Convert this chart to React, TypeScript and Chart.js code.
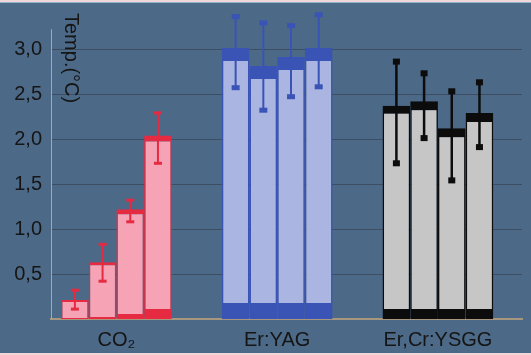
import React, { useEffect, useRef } from 'react';
import { Chart, registerables } from 'chart.js';

Chart.register(...registerables);

// ---- data ----
const categories = ['CO₂', 'Er:YAG', 'Er,Cr:YSGG'];
const categoryX = [1, 2, 3];
const yTicks = [0.5, 1.0, 1.5, 2.0, 2.5, 3.0];

const co2Values = [0.21, 0.63, 1.22, 2.04];
const co2ErrHigh = [0.32, 0.83, 1.32, 2.29];
const co2ErrLow = [0.11, 0.42, 1.08, 1.73];

const erYagValues = [3.01, 2.81, 2.91, 3.01];
const erYagErrHigh = [3.36, 3.29, 3.26, 3.38];
const erYagErrLow = [2.57, 2.32, 2.47, 2.58];

const erCrValues = [2.37, 2.42, 2.12, 2.29];
const erCrErrHigh = [2.86, 2.73, 2.53, 2.63];
const erCrErrLow = [1.73, 2.01, 1.54, 1.91];

const yAxisTitle = 'Temp.(°C)';

// ---- styles ----
const FONT = "'Liberation Sans', Arial, sans-serif";
const BG = '#4c6987';
const groupStyles = [
  { fill: '#f5a3b5', edge: '#e62a42', top: [2, 3, 5, 6], bottom: [1, 2, 5, 10], cap: 'line', capW: 8, capH: 3, errW: 2 },
  { fill: '#aab5e2', edge: '#3a54b6', top: [13, 13, 13, 13], bottom: [16, 16, 16, 16], cap: 'box', capW: 8, capH: 5, errW: 2 },
  { fill: '#c6c6c6', edge: '#0c0c0c', top: [8, 9, 9, 9], bottom: [10, 10, 10, 10], cap: 'box', capW: 7, capH: 6, errW: 2.5 },
];

const groupValues = [co2Values, erYagValues, erCrValues];
const groupHigh = [co2ErrHigh, erYagErrHigh, erCrErrHigh];
const groupLow = [co2ErrLow, erYagErrLow, erCrErrLow];

const backgroundPlugin = {
  id: 'bgFill',
  beforeDraw(chart: any) {
    const { ctx, width, height } = chart;
    ctx.save();
    ctx.fillStyle = BG;
    ctx.fillRect(0, 0, width, height);
    ctx.fillStyle = '#f1d6dc';
    ctx.fillRect(0, 0, width, 2);
    ctx.fillRect(0, height - 2, width, 2);
    ctx.fillStyle = '#8fb4c8';
    ctx.fillRect(0, 2, width, 1);
    ctx.restore();
  },
};

const errorBarPlugin = {
  id: 'errorBars',
  afterDatasetsDraw(chart: any) {
    const ctx = chart.ctx;
    const y = chart.scales.y;
    chart.data.datasets.forEach((_ds: any, di: number) => {
      const meta = chart.getDatasetMeta(di);
      meta.data.forEach((bar: any, gi: number) => {
        const s = groupStyles[gi];
        const yh = y.getPixelForValue(groupHigh[gi][di]);
        const yl = y.getPixelForValue(groupLow[gi][di]);
        const x = bar.x;
        ctx.save();
        ctx.strokeStyle = s.edge;
        ctx.fillStyle = s.edge;
        ctx.lineWidth = s.errW;
        ctx.beginPath();
        ctx.moveTo(x, yh);
        ctx.lineTo(x, yl);
        ctx.stroke();
        [yh, yl].forEach((py) => {
          ctx.fillRect(x - s.capW / 2, py - s.capH / 2, s.capW, s.capH);
        });
        ctx.restore();
      });
    });
  },
};

const axisDecorPlugin = {
  id: 'axisDecor',
  afterDraw(chart: any) {
    const { ctx, chartArea } = chart;
    const y = chart.scales.y;
    ctx.save();
    ctx.strokeStyle = 'rgba(175,180,185,0.85)';
    ctx.lineWidth = 1;
    ctx.beginPath();
    ctx.moveTo(chartArea.left + 0.5, y.getPixelForValue(3.22));
    ctx.lineTo(chartArea.left + 0.5, chartArea.bottom);
    ctx.stroke();
    ctx.translate(chartArea.left + 20, 13);
    ctx.rotate(Math.PI / 2);
    ctx.fillStyle = '#151515';
    ctx.font = `20px ${FONT}`;
    ctx.textAlign = 'left';
    ctx.textBaseline = 'middle';
    ctx.fillText(yAxisTitle, 0, 0);
    ctx.restore();
  },
};

export default function App() {
  const ref = useRef<HTMLCanvasElement | null>(null);

  useEffect(() => {
    document.body.style.margin = '0';
    const canvas = ref.current;
    if (!canvas) return;

    const datasets = [0, 1, 2, 3].map((i) => ({
      label: `Bar ${i + 1}`,
      data: categoryX.map((x, g) => ({ x, y: groupValues[g][i] })),
      backgroundColor: (c: any) => groupStyles[c.dataIndex].fill,
      borderColor: (c: any) => groupStyles[c.dataIndex].edge,
      borderWidth: (c: any) => {
        const s = groupStyles[c.dataIndex];
        return { top: s.top[c.datasetIndex], bottom: s.bottom[c.datasetIndex], left: 1.5, right: 1.5 };
      },
      borderSkipped: false,
      categoryPercentage: 0.689,
      barPercentage: 1,
    }));

    const chart = new Chart(canvas, {
      type: 'bar',
      data: { datasets },
      options: {
        animation: false,
        responsive: false,
        devicePixelRatio: 1,
        layout: { padding: { top: 4, right: 9, left: 0, bottom: 0 } },
        plugins: { legend: { display: false }, tooltip: { enabled: false } },
        scales: {
          x: {
            type: 'linear',
            min: 0.593,
            max: 3.523,
            offset: false,
            afterBuildTicks: (s: any) => {
              s.ticks = categoryX.map((v) => ({ value: v }));
            },
            afterFit: (s: any) => {
              s.height = 36;
              s.paddingLeft = 0;
              s.paddingRight = 0;
            },
            grid: { display: false, drawTicks: false },
            border: { display: true, color: '#a8977f', width: 2 },
            ticks: {
              autoSkip: false,
              maxRotation: 0,
              padding: 9,
              color: '#151515',
              font: { family: FONT, size: 20 },
              callback: (_v: any, i: number) => categories[i],
            },
          },
          y: {
            min: 0,
            max: 3.5,
            z: 1,
            afterBuildTicks: (s: any) => {
              s.ticks = yTicks.map((v) => ({ value: v }));
            },
            afterFit: (s: any) => {
              s.width = 51;
              s.paddingTop = 0;
              s.paddingBottom = 0;
            },
            grid: { color: 'rgba(45,52,62,0.5)', lineWidth: 1, drawTicks: false },
            border: { display: false },
            ticks: {
              padding: 9,
              color: '#151515',
              font: { family: FONT, size: 20 },
              callback: (v: any) => Number(v).toFixed(1).replace('.', ','),
            },
          },
        },
      },
      plugins: [backgroundPlugin, errorBarPlugin, axisDecorPlugin],
    } as any);

    return () => chart.destroy();
  }, []);

  return (
    <div style={{ width: 531, height: 355 }}>
      <canvas ref={ref} width={531} height={355} style={{ display: 'block', width: 531, height: 355 }} />
    </div>
  );
}
